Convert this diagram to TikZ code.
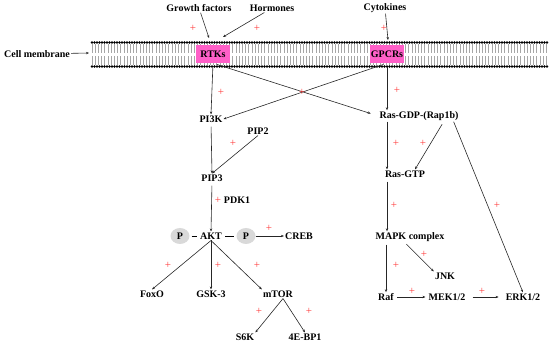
\documentclass[tikz,border=0pt]{standalone}
\usepackage{fontspec}
\setmainfont{Liberation Serif}
\usepackage{tikz}
\usetikzlibrary{positioning,arrows.meta,calc,shapes.geometric}
\definecolor{rcpink}{HTML}{FF5FC8}
\definecolor{plusred}{HTML}{FF3A3A}

\begin{document}
\begin{tikzpicture}[x=1pt, y=-1pt, >={Stealth[length=3pt,width=2.4pt]},
    lbl/.style={font=\fontsize{10}{12}\selectfont\bfseries, inner sep=1pt},
    plus/.style={font=\fontsize{11}{12}\selectfont, text=plusred, inner sep=0pt},
    recbox/.style={lbl, fill=rcpink, minimum width=34pt, minimum height=18pt, inner sep=0pt},
    pcirc/.style={lbl, ellipse, fill=gray!30, minimum width=19pt, minimum height=16pt, inner sep=0pt},
    link/.style={->, line width=0.6pt, black!85}]

    \useasboundingbox (0,0) rectangle (550,344);

    % Cell membrane (lipid bilayer)
    \foreach \x in {92,95.2,...,548} {
        \draw[gray!70, line width=0.8pt] (\x,44) -- (\x,53.5);
        \draw[gray!70, line width=0.8pt] (\x,56.5) -- (\x,65);
    }
    \foreach \x in {92,94.5,...,548} {
        \fill[black] (\x,42.5) circle (1.3pt);
        \fill[black] (\x,66.5) circle (1.3pt);
    }

    % Receptors
    \node[recbox] (rtk) at (213,54) {RTKs};
    \node[recbox] (gpcr) at (387,54) {GPCRs};

    % Ligands
    \node[lbl] (gf) at (199,8) {Growth factors};
    \node[lbl] (horm) at (272,8) {Hormones};
    \node[lbl] (cyto) at (385,8) {Cytokines};
    \node[lbl] (memb) at (37,54) {Cell membrane};
    \coordinate (gfin) at (209,38);
    \coordinate (hormin) at (223,37);
    \coordinate (cytoin) at (388,40);
    \coordinate (membin) at (89,53);

    % PI3K / AKT branch
    \node[lbl] (pi3k) at (211,119) {PI3K};
    \node[lbl] (pip2) at (258,131) {PIP2};
    \node[lbl] (pip3) at (212,178) {PIP3};
    \node[lbl] (pdk1) at (237,200) {PDK1};
    \node[lbl] (akt) at (211,236) {AKT};
    \node[pcirc] (pleft) at (180,236) {P};
    \node[pcirc] (pright) at (246,236) {P};
    \node[lbl] (creb) at (299,236) {CREB};
    \node[lbl] (foxo) at (152,294) {FoxO};
    \node[lbl] (gsk3) at (211,294) {GSK-3};
    \node[lbl] (mtor) at (278,294) {mTOR};
    \node[lbl] (s6k) at (245,337) {S6K};
    \node[lbl] (ebp1) at (305,337) {4E-BP1};

    % Ras / MAPK branch
    \node[lbl] (rasgdp) at (419,116) {Ras-GDP-(Rap1b)};
    \node[lbl] (rasgtp) at (405,174) {Ras-GTP};
    \node[lbl] (mapk) at (410,237) {MAPK complex};
    \node[lbl] (jnk) at (445,276) {JNK};
    \node[lbl] (raf) at (386,297) {Raf};
    \node[lbl] (mek) at (447,297) {MEK1/2};
    \node[lbl] (erk) at (523,297) {ERK1/2};

    % Connectors
    \draw[link] (gf) -- (gfin);
    \draw[link] (horm) -- (hormin);
    \draw[link] (cyto) -- (cytoin);
    \draw[link] (memb) -- (membin);
    \draw[link, shorten <=4pt] (rtk.south) -- (pi3k.north);
    \draw[link, shorten <=4pt, shorten >=8pt] (rtk.south) -- (rasgdp.west);
    \draw[link, shorten <=4pt] (gpcr.south) -- (pi3k.east);
    \draw[link, shorten <=4pt] (gpcr.south) -- (gpcr.south |- rasgdp.north);
    \draw[link, shorten <=3pt] (pi3k.south) -- (pip3.north);
    \draw[link] (pip2.south) -- (pip3.north);
    \draw[link, shorten <=3pt] (pip3.south) -- (akt.north);
    \draw[line width=0.6pt, shorten <=2pt, shorten >=2pt] (pleft) -- (akt);
    \draw[line width=0.6pt, shorten <=2pt, shorten >=2pt] (akt) -- (pright);
    \draw[link] (pright) -- (creb);
    \draw[link] (akt.south) -- (foxo.north);
    \draw[link] (akt.south) -- (gsk3.north);
    \draw[link] (akt.south) -- (mtor.north west);
    \draw[link] ([xshift=5pt]mtor.south) -- (s6k.north east);
    \draw[link] ([xshift=5pt]mtor.south) -- (ebp1.north);
    \draw[link] (rasgdp.south -| gpcr.south) -- (rasgtp.north -| gpcr.south);
    \draw[link, shorten <=3pt] ([xshift=-16pt]rasgdp.south east) -- ([xshift=10pt]rasgtp.north);
    \draw[link] ([xshift=-6pt]rasgdp.south east) -- (erk.north);
    \draw[link, shorten <=3pt] (rasgtp.south -| gpcr.south) -- (mapk.north -| gpcr.south);
    \draw[link, shorten <=2pt] (mapk.south -| raf) -- (raf.north);
    \draw[link, shorten <=2pt] ([xshift=-5pt]mapk.south) -- (jnk.north west);
    \draw[link, shorten <=2pt, shorten >=2pt] (raf) -- (mek);
    \draw[link, shorten <=6pt, shorten >=6pt] (mek) -- (erk);

    % Activation marks
    \foreach \px/\py [count=\i] in {193/28, 257/28, 384/28, 221/92, 302/92, 397/90,
            233/143, 218/200, 269/228, 168/265, 218/265, 257/265, 259/311, 309/311,
            396/143, 423/143, 497/205, 394/205, 396/265, 424/254, 412/291, 482/291}
        \node[plus] (pl\i) at (\px,\py) {+};

\end{tikzpicture}
\end{document}
